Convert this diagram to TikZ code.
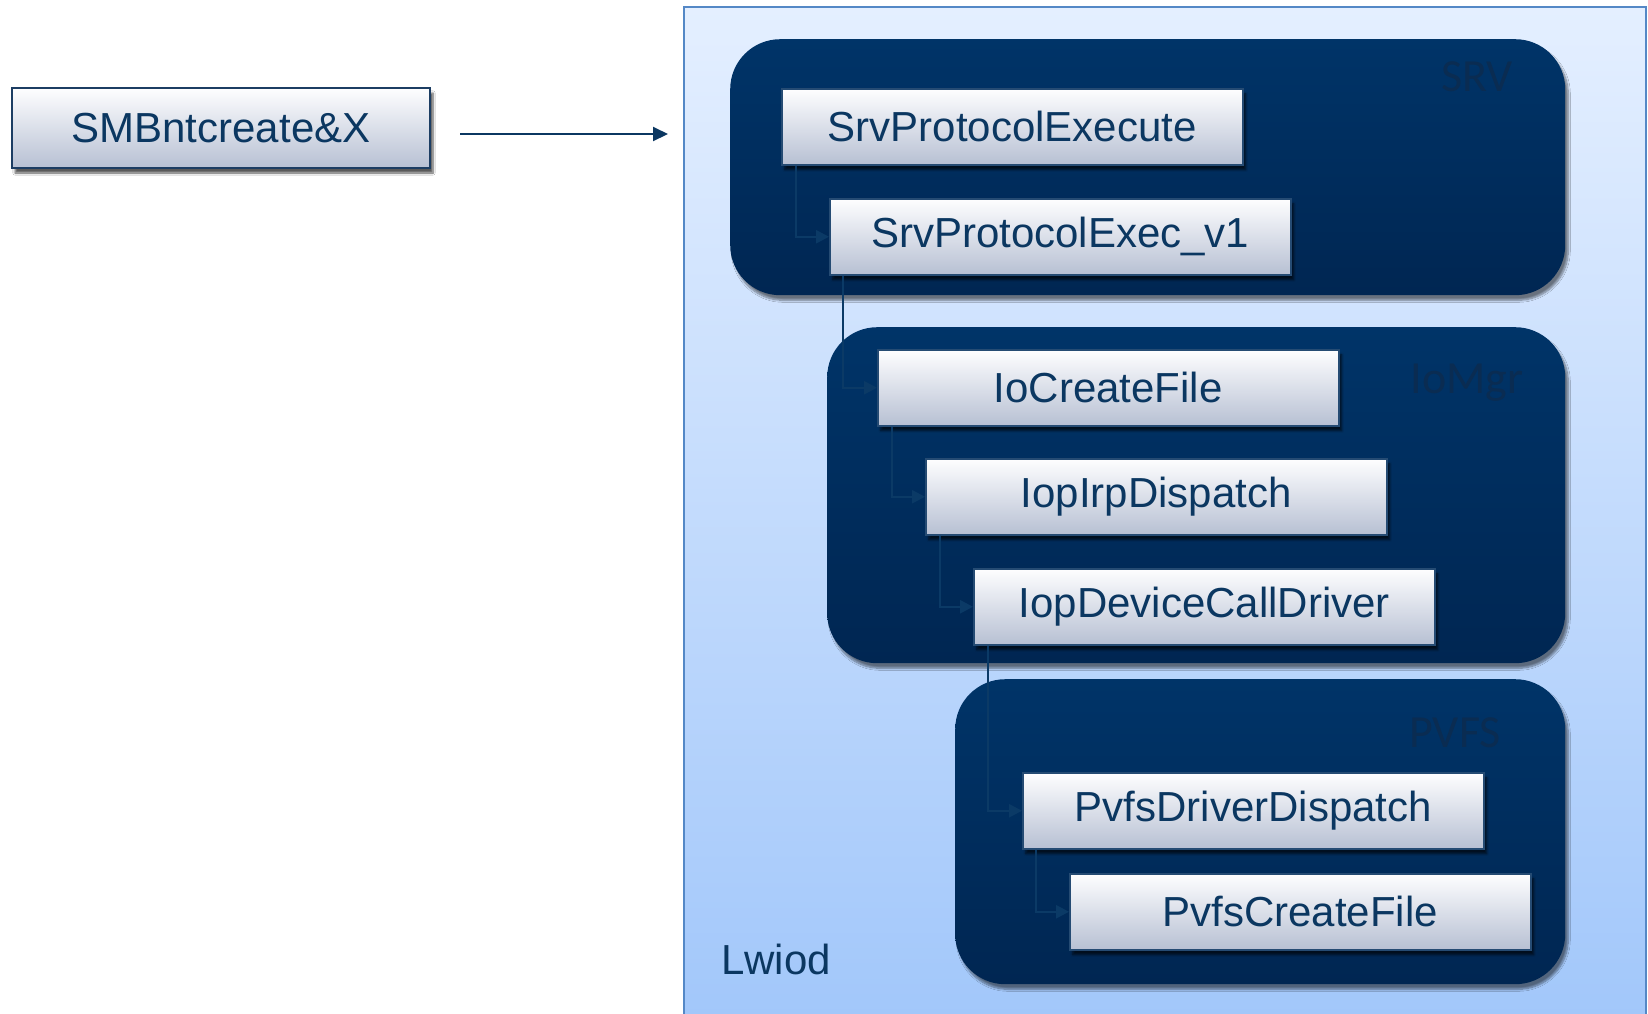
\documentclass[tikz,border=0pt]{standalone}
\usepackage{fontspec}
\setmainfont{Liberation Sans}
\newfontfamily\labfont{Carlito}
\usetikzlibrary{shadows.blur,arrows.meta}
\definecolor{txtblue}{HTML}{0B3761}
\definecolor{boxborder}{HTML}{254B73}
\definecolor{connblue}{HTML}{0B3A66}
\definecolor{darktop}{HTML}{003468}
\definecolor{darkbot}{HTML}{002652}
\definecolor{labdark}{HTML}{0A2C52}
\begin{document}
\begin{tikzpicture}[x=1pt,y=-1pt,
  fnbox/.style={draw=boxborder, line width=1.5pt, top color=white!90!blue!4, bottom color={rgb,255:red,183;green,192;blue,211},
    anchor=north west, minimum width=461pt, minimum height=76pt, inner sep=0pt,
    text=txtblue, font=\fontsize{42}{48}\selectfont,
    blur shadow={shadow xshift=3pt, shadow yshift=-5pt, shadow blur steps=6, shadow opacity=65}},
  group/.style={rounded corners=50pt, top color=darktop, bottom color=darkbot, draw=none,
    anchor=north west, inner sep=0pt,
    blur shadow={shadow xshift=3pt, shadow yshift=-5pt, shadow blur steps=8, shadow opacity=50}},
  grouplabel/.style={text=labdark, font=\labfont\fontsize{46}{50}\selectfont},
  conn/.style={draw=connblue, line width=2.5pt, -{Triangle[length=13pt,width=13pt]}},
]
\useasboundingbox (0,0) rectangle (1648,1013);
\clip (0,0) rectangle (1648,1013);
\fill[white] (0,0) rectangle (1648,1013);

% outer Lwiod container
\node[anchor=north west, draw={rgb,255:red,84;green,136;blue,198}, line width=2pt,
  top color={rgb,255:red,228;green,239;blue,255}, bottom color={rgb,255:red,160;green,198;blue,250},
  minimum width=962pt, minimum height=1040pt, inner sep=0pt] (lwiod) at (683,6) {};
\node[text=txtblue, font=\fontsize{42}{48}\selectfont] (lwiodlab) at (776,959) {Lwiod};

% groups
\node[group, minimum width=835pt, minimum height=256pt] (srv) at (730,39) {};
\node[group, minimum width=738pt, minimum height=336pt] (iomgr) at (827,327) {};
\node[group, minimum width=610pt, minimum height=305pt] (pvfs) at (955,679) {};
\node[grouplabel] (srvlab) at (1477,77) {SRV};
\node[grouplabel] (iomgrlab) at (1467,383) {IoMgr};
\node[grouplabel] (pvfslab) at (1455,733) {PVFS};

% function boxes
\node[fnbox, draw={rgb,255:red,28;green,61;blue,99}, line width=2pt, minimum width=418pt, minimum height=80pt] (smb) at (11,87) {SMBntcreate\&X};
\node[fnbox] (spe) at (781,88) {SrvProtocolExecute};
\node[fnbox] (spe1) at (829,198) {SrvProtocolExec\_v1};
\node[fnbox] (iocf) at (877,349) {IoCreateFile};
\node[fnbox] (iird) at (925,458) {IopIrpDispatch};
\node[fnbox] (idcd) at (973,568) {IopDeviceCallDriver};
\node[fnbox] (pdd) at (1022,772) {PvfsDriverDispatch};
\node[fnbox] (pcf) at (1069,873) {PvfsCreateFile};

% connectors
\coordinate (arrstart) at (460,134);
\coordinate (arrend) at (668,134);
\draw[draw=txtblue, line width=2pt, -{Triangle[length=15pt,width=14pt]}] (arrstart) -- (arrend);
\draw[conn] ([xshift=15pt]spe.south west) |- (spe1.west);
\draw[conn] ([xshift=14pt]spe1.south west) |- (iocf.west);
\draw[conn] ([xshift=15pt]iocf.south west) |- (iird.west);
\draw[conn] ([xshift=15pt]iird.south west) |- (idcd.west);
\draw[conn] ([xshift=15pt]idcd.south west) |- (pdd.west);
\draw[conn] ([xshift=14pt]pdd.south west) |- (pcf.west);
\end{tikzpicture}
\end{document}
